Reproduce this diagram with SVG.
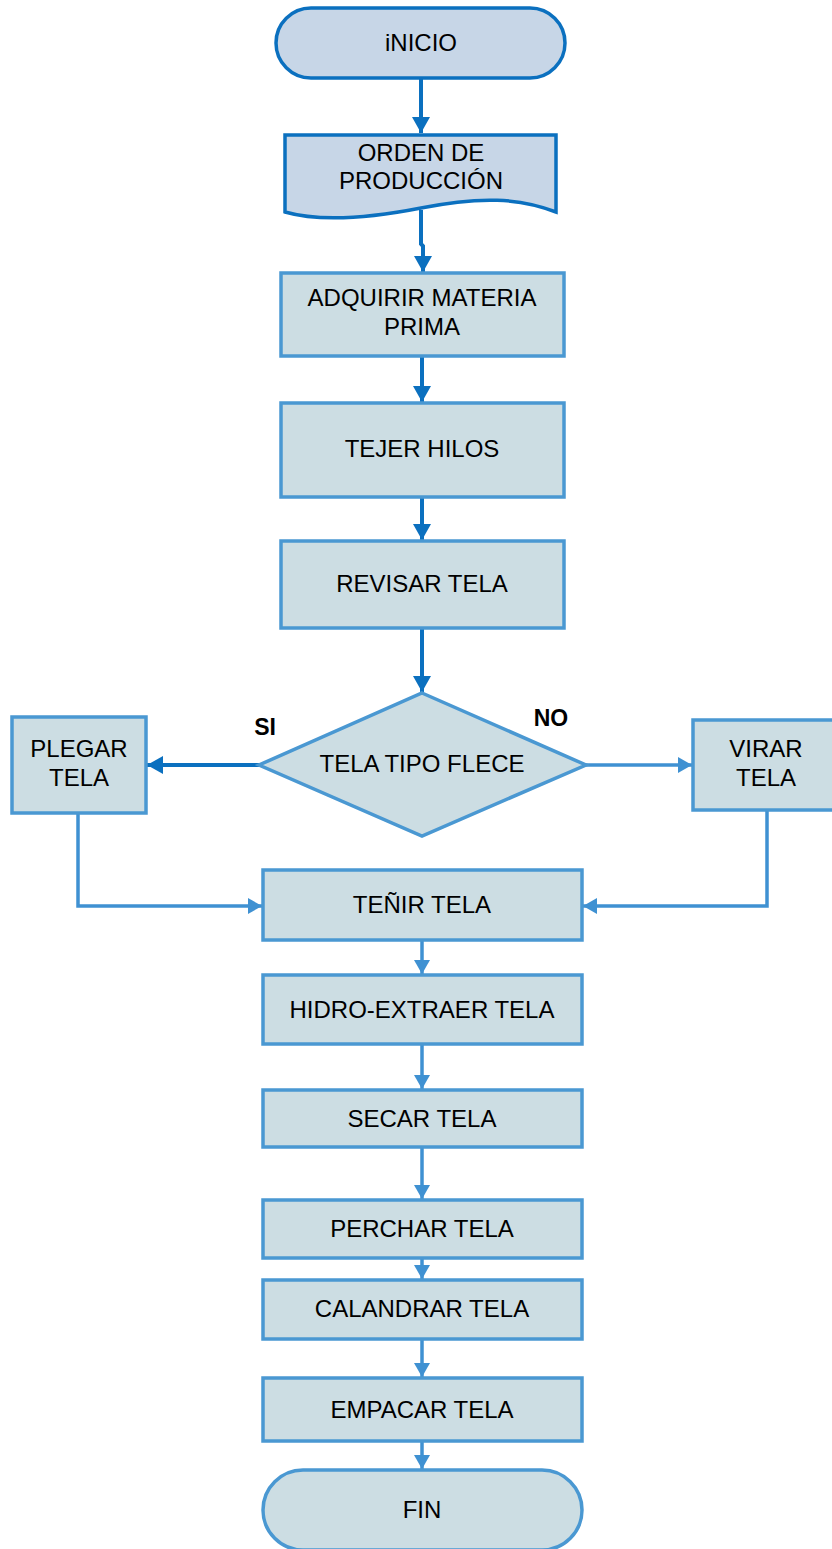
<svg xmlns="http://www.w3.org/2000/svg" width="832" height="1549" viewBox="0 0 832 1549">
<style>
.term{fill:#C7D6E7;stroke:#0B70BF;stroke-width:3.5}
.box{fill:#CCDDE3;stroke:#4A98D2;stroke-width:3.5}
.t{font-family:"Liberation Sans",Arial,sans-serif;font-size:24px;fill:#000;text-anchor:middle}
.lbl{font-family:"Liberation Sans",Arial,sans-serif;font-size:23px;font-weight:bold;fill:#000;text-anchor:middle}
.cd{fill:none;stroke:#0B70BF;stroke-width:4}
.cl{fill:none;stroke:#3F91D2;stroke-width:3.5}
</style>
<defs>
<marker id="ad" markerUnits="userSpaceOnUse" markerWidth="20" markerHeight="20" viewBox="0 0 20 20" refX="18" refY="10" orient="auto">
<path d="M2,1 L18,10 L2,19 Z" fill="#0B70BF"/>
</marker>
<marker id="al" markerUnits="userSpaceOnUse" markerWidth="20" markerHeight="20" viewBox="0 0 20 20" refX="17" refY="10" orient="auto">
<path d="M3,2 L17,10 L3,18 Z" fill="#3F91D2"/>
</marker>
</defs>
<rect width="832" height="1549" fill="#fff"/>
<g id="connectors">
<path class="cd" d="M421,78 V133" marker-end="url(#ad)"/>
<path class="cd" d="M421,210 V244 L423,246 V272" marker-end="url(#ad)"/>
<path class="cd" d="M422,356 V402" marker-end="url(#ad)"/>
<path class="cd" d="M422,497 V540" marker-end="url(#ad)"/>
<path class="cd" d="M422,628 V692" marker-end="url(#ad)"/>
<path class="cd" d="M259,765 H147" marker-end="url(#ad)"/>
<path class="cl" d="M586,765 H692" marker-end="url(#al)"/>
<path class="cl" d="M78,813 V906 H262" marker-end="url(#al)"/>
<path class="cl" d="M767,810 V906 H583" marker-end="url(#al)"/>
<path class="cl" d="M422,940 V974" marker-end="url(#al)"/>
<path class="cl" d="M422,1044 V1089" marker-end="url(#al)"/>
<path class="cl" d="M422,1147 V1199" marker-end="url(#al)"/>
<path class="cl" d="M422,1258 V1279" marker-end="url(#al)"/>
<path class="cl" d="M422,1339 V1377" marker-end="url(#al)"/>
<path class="cl" d="M422,1441 V1469" marker-end="url(#al)"/>
</g>
<g id="inicio">
<rect class="term" x="276" y="8" width="289" height="70" rx="35"/>
<text class="t" x="421" y="51">iNICIO</text>
</g>
<g id="orden">
<path class="term" d="M285,135 H556 V212 C520,198 480,196 421,208 C370,218 320,222 285,212 Z"/>
<text class="t" x="421" y="161">ORDEN DE</text>
<text class="t" x="421" y="189">PRODUCCIÓN</text>
</g>
<g id="adquirir">
<rect class="box" x="281" y="273" width="283" height="83"/>
<text class="t" x="422" y="306">ADQUIRIR MATERIA</text>
<text class="t" x="422" y="335">PRIMA</text>
</g>
<g id="tejer">
<rect class="box" x="281" y="403" width="283" height="94"/>
<text class="t" x="422" y="457">TEJER HILOS</text>
</g>
<g id="revisar">
<rect class="box" x="281" y="541" width="283" height="87"/>
<text class="t" x="422" y="592">REVISAR TELA</text>
</g>
<g id="decision">
<path class="box" d="M422,693 L586,765 L422,836 L259,765 Z"/>
<text class="t" x="422" y="772">TELA TIPO FLECE</text>
<text class="lbl" x="265" y="735">SI</text>
<text class="lbl" x="551" y="726">NO</text>
</g>
<g id="plegar">
<rect class="box" x="12" y="717" width="134" height="96"/>
<text class="t" x="79" y="757">PLEGAR</text>
<text class="t" x="79" y="786">TELA</text>
</g>
<g id="virar">
<rect class="box" x="693" y="720" width="146" height="90"/>
<text class="t" x="766" y="757">VIRAR</text>
<text class="t" x="766" y="786">TELA</text>
</g>
<g id="tenir">
<rect class="box" x="263" y="870" width="319" height="70"/>
<text class="t" x="422" y="913">TEÑIR TELA</text>
</g>
<g id="hidro">
<rect class="box" x="263" y="975" width="319" height="69"/>
<text class="t" x="422" y="1018">HIDRO-EXTRAER TELA</text>
</g>
<g id="secar">
<rect class="box" x="263" y="1090" width="319" height="57"/>
<text class="t" x="422" y="1127">SECAR TELA</text>
</g>
<g id="perchar">
<rect class="box" x="263" y="1200" width="319" height="58"/>
<text class="t" x="422" y="1237">PERCHAR TELA</text>
</g>
<g id="calandrar">
<rect class="box" x="263" y="1280" width="319" height="59"/>
<text class="t" x="422" y="1317">CALANDRAR TELA</text>
</g>
<g id="empacar">
<rect class="box" x="263" y="1378" width="319" height="63"/>
<text class="t" x="422" y="1418">EMPACAR TELA</text>
</g>
<g id="fin">
<rect class="box" x="263" y="1470" width="319" height="80" rx="40"/>
<text class="t" x="422" y="1518">FIN</text>
</g>
</svg>
